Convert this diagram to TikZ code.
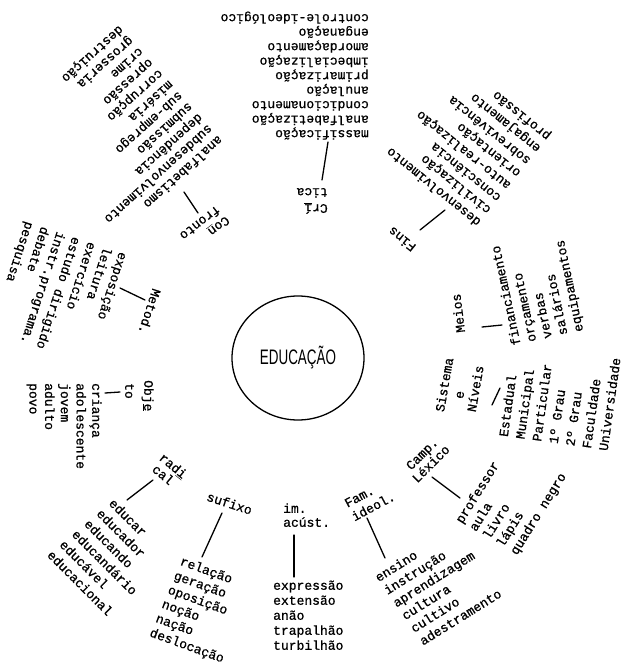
\documentclass[tikz,border=0pt]{standalone}
\usepackage{fontspec}
\newfontfamily\tw[FakeBold=0.8]{Liberation Mono}
\newfontfamily\edufont{Liberation Sans}
\usetikzlibrary{calc,shapes.geometric}
\tikzset{
 item/.style={font=\tw\fontsize{13}{15}\selectfont, inner sep=0pt, text height=7pt, text depth=1.5pt},
 conn/.style={line width=1.3pt, line cap=round},
 ray/.style={line width=1.1pt, black!85},
 hub/.style={ellipse, draw, line width=1.3pt, minimum width=132pt, minimum height=124pt, inner sep=0pt},
}
\newcommand\ul[1]{\underline{#1}}
\newcommand\wordlist[7]{%
 \foreach \w [count=\wi from 0] in {#7}{%
  \node[item, rotate=#4, anchor=west] (#1\wi) at ($(#2,-#3)+(#5:{\wi*#6})$) {\w};
 }}
\begin{document}
\begin{tikzpicture}[x=1pt,y=1pt]
\fill[white] (0,0) rectangle (626,-667);
\useasboundingbox (0,0) rectangle (626,-667);
\node[hub] (edu) at (298,-358) {\edufont\fontsize{21}{21}\selectfont\scalebox{0.64}[1]{EDUCAÇÃO}};
\foreach \p [count=\k] in {(312,-238),(383,-268),(423,-338),(422,-387),(393,-442),(345,-470),(294,-478),(245,-465),(200,-440),(172,-383),(180,-315),(227,-260)}{
 \coordinate (ray\k) at \p;
 \draw[ray] (edu) -- (ray\k);
}
% Critica
\wordlist{crit}{369}{133}{180}{90}{14.5}{massificação,analfabetização,condicionamento,anulação,primarização,imbecialização,amordaçamento,enganação,controle-ideológico}
\wordlist{critl}{328}{207}{180}{90}{16}{Cr\ul{í},tica}
\coordinate (critA) at (322,-180); \coordinate (critB) at (328,-142);
\draw[conn] (critA) -- (critB);
% Fins
\wordlist{fins}{480}{223}{141}{51}{15.8}{desenvolvimento,civilização,consciência,auto-realização,orientação,sobrevivência,engajamento,profissão}
\node[item, rotate=141] (finsl) at (403,-238) {Fins};
\coordinate (finsA) at (420,-230); \coordinate (finsB) at (445,-210);
\draw[conn] (finsA) -- (finsB);
% Meios
\node[item, rotate=97] (meiosl) at (460,-313) {Meios};
\wordlist{meios}{518}{345}{102}{12}{16}{financiamento,orçamento,verbas,salários,equipamentos}
\coordinate (meiosA) at (482,-327); \coordinate (meiosB) at (502,-325);
\draw[conn] (meiosA) -- (meiosB);
% Sistema e Niveis
\node[item, rotate=80] (sis1) at (446,-385) {Sistema};
\node[item, rotate=80] (sis2) at (461,-395) {e};
\node[item, rotate=80] (sis3) at (477,-389) {Níveis};
\wordlist{niv}{505}{437}{82}{-8}{16.8}{Estadual,Municipal,Particular,1º Grau,2º Grau,Faculdade,Universidade}
\coordinate (nivA) at (500,-388); \coordinate (nivB) at (492,-405);
\draw[conn] (nivA) -- (nivB);
% Camp. Lexico
\node[item, rotate=45] (camp1) at (423,-455) {Camp.};
\node[item, rotate=45] (camp2) at (432,-465) {Léxico};
\wordlist{camp}{460}{523}{58}{-30}{15.7}{professor,aula,livro,lápis,quadro negro}
\coordinate (campA) at (432,-477); \coordinate (campB) at (460,-498);
\draw[conn] (campA) -- (campB);
% Fam. ideol.
\node[item, rotate=28] (fam1) at (360,-498) {Fam.};
\node[item, rotate=28] (fam2) at (374,-508) {ideol.};
\wordlist{fam}{377}{580}{32}{-55}{15.5}{ensino,instrução,aprendizagem,cultura,cultivo,adestramento}
\coordinate (famA) at (367,-518); \coordinate (famB) at (385,-558);
\draw[conn] (famA) -- (famB);
% im. acust.
\wordlist{ima}{283}{510}{0}{-90}{14}{im.,acúst.}
\wordlist{imal}{273}{587}{0}{-90}{15}{expressão,extensão,anão,trapalhão,turbilhão}
\coordinate (imaA) at (294,-535); \coordinate (imaB) at (294,-577);
\draw[conn] (imaA) -- (imaB);
% sufixo
\node[item, rotate=-18] (suf) at (229,-505) {sufixo};
\wordlist{sufl}{180}{562}{-20}{-113}{15.5}{relação,geração,oposição,noção,nação,deslocação}
\coordinate (sufA) at (222,-513); \coordinate (sufB) at (202,-557);
\draw[conn] (sufA) -- (sufB);
% radical
\node[item, rotate=-40] (rad1) at (172,-467) {rad\ul{i}};
\node[item, rotate=-40] (rad2) at (162,-476) {cal};
\wordlist{radl}{110}{502}{-45}{-140}{16.1}{educar,educador,educando,educandário,educável,educacional}
\coordinate (radA) at (127,-500); \coordinate (radB) at (153,-480);
\draw[conn] (radA) -- (radB);
% Objeto
\node[item, rotate=-90, anchor=west] (obj1) at (147,-380) {Obj\ul{e}};
\node[item, rotate=-90, anchor=west] (obj2) at (128,-383) {to};
\wordlist{objl}{95}{383}{-90}{180}{15.7}{criança,adolescente,jovem,adulto,povo}
\coordinate (objA) at (105,-393); \coordinate (objB) at (120,-392);
\draw[conn] (objA) -- (objB);
% Metod.
\node[item, rotate=-108] (met) at (148,-311) {Metod.};
\wordlist{metl}{122}{252}{-108}{162}{16.4}{exposição,leitura,exercício,estudo dirigido,instr.programa.,debate,pesquisa}
\coordinate (metA) at (120,-288); \coordinate (metB) at (145,-300);
\draw[conn] (metA) -- (metB);
% Confronto
\node[item, rotate=218] (con1) at (218,-225) {Co\ul{n}};
\node[item, rotate=218] (con2) at (199,-222) {fronto};
\wordlist{conl}{220}{137}{222}{132}{14.8}{analfabetismo,subdesenvolvimento,dependência,submissão,sub-emprego,miséria,corrupção,opressão,crime,grosseria,destruição}
\coordinate (conA) at (184,-192); \coordinate (conB) at (198,-213);
\draw[conn] (conA) -- (conB);
\end{tikzpicture}
\end{document}
